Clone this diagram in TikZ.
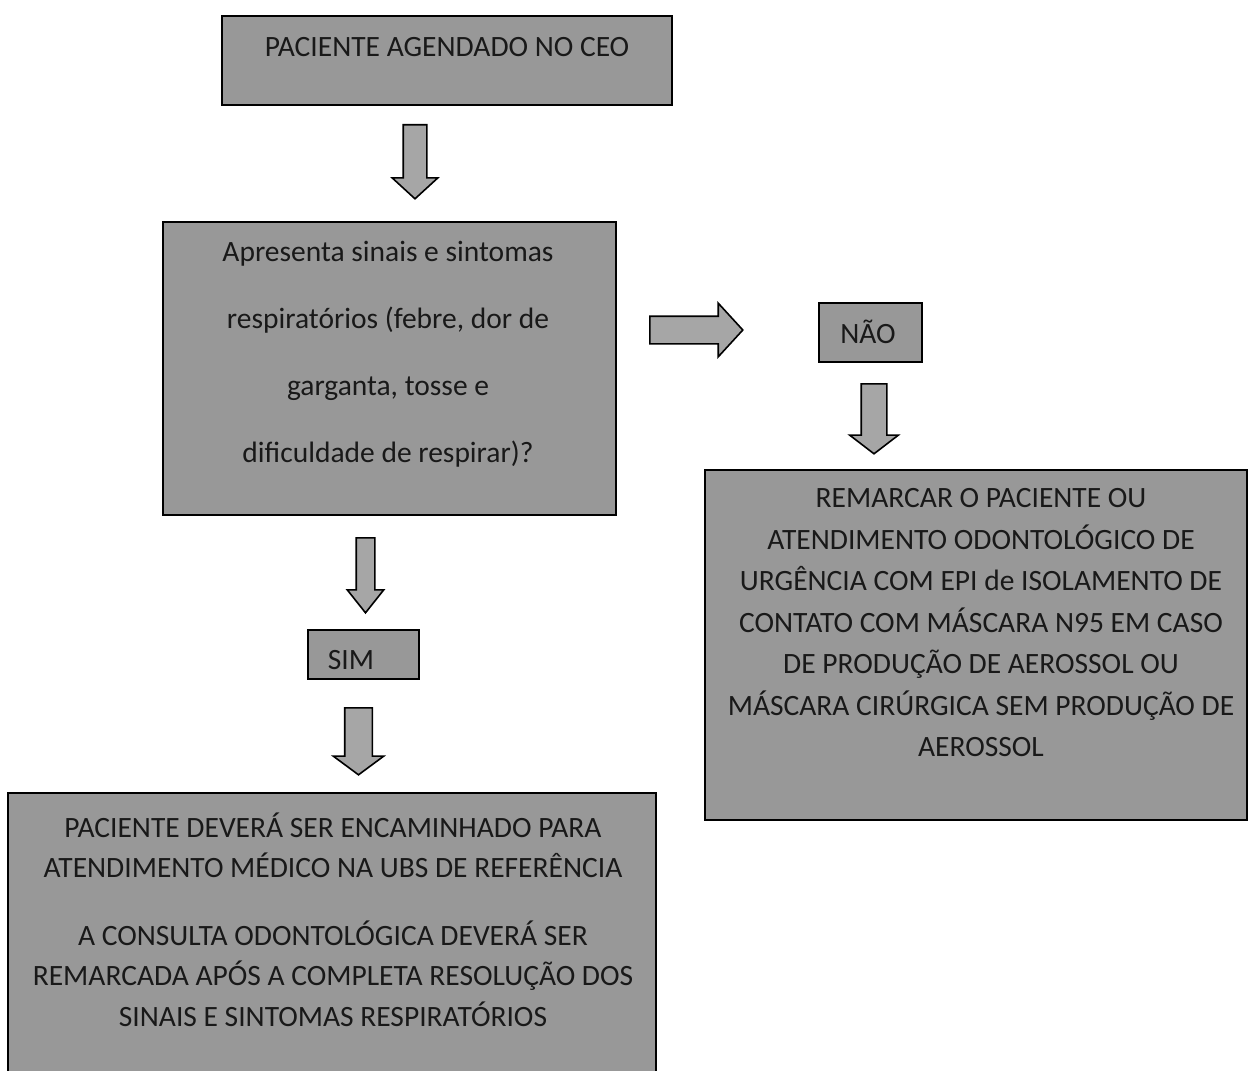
\documentclass[tikz,border=0pt]{standalone}
\usepackage{fontspec}
\setmainfont{Carlito}
\usetikzlibrary{positioning,shapes.arrows}

\definecolor{boxgray}{RGB}{152,152,152}
\definecolor{arrowgray}{RGB}{166,166,166}
\definecolor{inkcol}{RGB}{25,25,25}

\tikzset{
  box/.style={draw=black, fill=boxgray, line width=1.8pt, inner sep=0pt},
  boxtext/.style={align=center, text=inkcol, inner sep=0pt,
    font=\fontsize{29.5}{41.5}\selectfont},
  % block arrow: length, half shaft width, head extend
  barrow/.style n args={3}{single arrow, draw=black, fill=arrowgray,
    line width=1.6pt, inner xsep=0pt, inner ysep=#2, anchor=tail,
    minimum height=#1, minimum width=0pt,
    single arrow head extend=#3, single arrow head indent=0pt},
}

\begin{document}
\begin{tikzpicture}[x=1pt,y=-1pt]
  \useasboundingbox (0,0) rectangle (1249,1070);
  \clip (0,0) rectangle (1249,1070);
%%
  % Node: ceo
  \node[box, minimum width=450pt, minimum height=89pt] (ceo) at (447,60.5) {};
  \node[boxtext] (ceo-t) at (447,47) {PACIENTE AGENDADO NO CEO};
  % Node: sintomas
  \node[box, minimum width=453pt, minimum height=293pt] (sintomas) at (389.5,368.5) {};
  \node[boxtext, font=\fontsize{29.5}{67}\selectfont] (sintomas-t) at (388,354)
    {Apresenta sinais e sintomas\\respiratórios (febre, dor de\\garganta, tosse e\\dificuldade de respirar)?};
  % Node: nao
  \node[box, minimum width=103pt, minimum height=59pt] (nao) at (870.5,332.5) {};
  \node[boxtext] (nao-t) at (868,332) {NÃO};
  % Node: remarcar
  \node[box, minimum width=542pt, minimum height=350pt] (remarcar) at (976,645) {};
  \node[boxtext] (remarcar-t) at (981,623)
    {REMARCAR O PACIENTE OU\\ATENDIMENTO ODONTOLÓGICO DE\\URGÊNCIA COM EPI de ISOLAMENTO DE\\CONTATO COM MÁSCARA N95 EM CASO\\DE PRODUÇÃO DE AEROSSOL OU\\MÁSCARA CIRÚRGICA SEM PRODUÇÃO DE\\AEROSSOL};
  % Node: sim
  \node[box, minimum width=111pt, minimum height=49pt] (sim) at (363.5,654.5) {};
  \node[boxtext] (sim-t) at (351,660) {SIM};
  % Node: ubs
  \node[box, minimum width=648pt, minimum height=300pt] (ubs) at (332,943) {};
  \node[boxtext, font=\fontsize{29.5}{40.5}\selectfont] (ubs-t) at (333,919.5)
    {PACIENTE DEVERÁ SER ENCAMINHADO PARA\\ATENDIMENTO MÉDICO NA UBS DE REFERÊNCIA\\[27pt]A CONSULTA ODONTOLÓGICA DEVERÁ SER\\REMARCADA APÓS A COMPLETA RESOLUÇÃO DOS\\SINAIS E SINTOMAS RESPIRATÓRIOS};
%
  % Edge: ceo -> sintomas
  \node[barrow={74pt}{11pt}{11pt}, single arrow tip angle=95, rotate=-90] (a1) at (415,124) {};
  % Edge: sintomas -> nao
  \node[barrow={93pt}{13pt}{13pt}, single arrow tip angle=95] (a2) at (649,330) {};
  % Edge: nao -> remarcar
  \node[barrow={70pt}{12pt}{11.5pt}, single arrow tip angle=105, rotate=-90] (a3) at (874,383) {};
  % Edge: sintomas -> sim
  \node[barrow={75pt}{8.5pt}{9pt}, single arrow tip angle=77, rotate=-90] (a4) at (365.5,537) {};
  % Edge: sim -> ubs
  \node[barrow={67pt}{13pt}{11.5pt}, single arrow tip angle=107, rotate=-90] (a5) at (358.5,707) {};
%
\end{tikzpicture}
\end{document}
